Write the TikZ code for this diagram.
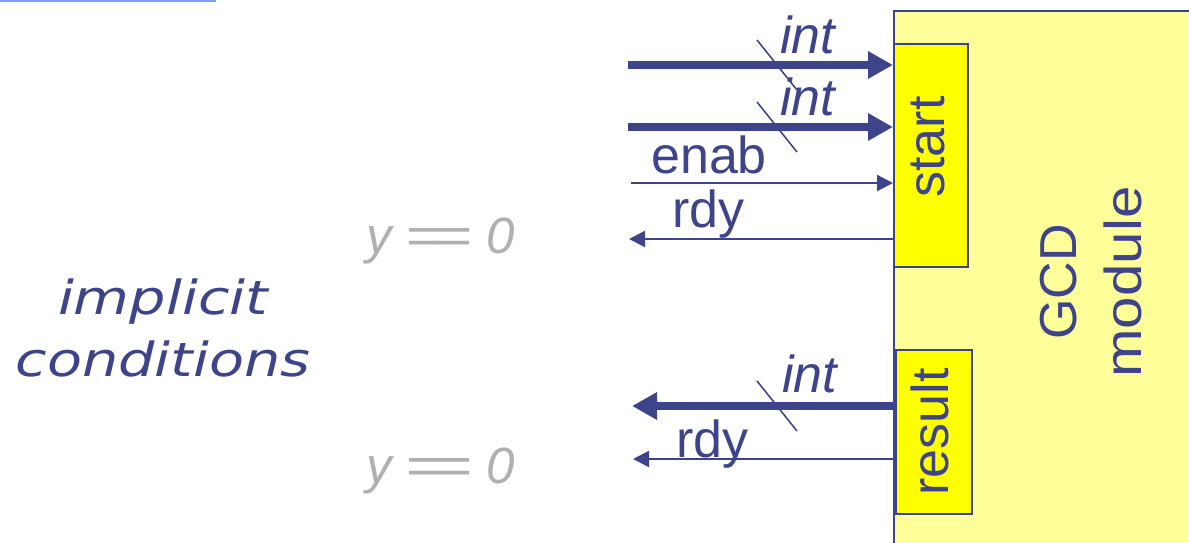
\documentclass[tikz,border=0pt]{standalone}
\usepackage{fontspec}
\usepackage{graphicx}
\setmainfont{Liberation Sans}
\newfontfamily\condfont{DejaVu Sans}
\usetikzlibrary{positioning,arrows.meta,calc}
\definecolor{PortBlue}{RGB}{62,68,138}
\definecolor{ModuleYellow}{RGB}{255,255,153}
\definecolor{PortYellow}{RGB}{255,255,0}
\definecolor{GuardGrey}{RGB}{176,176,176}
\definecolor{RuleBlue}{RGB}{130,150,255}
\newcommand{\guardeq}{y \scalebox{1.22}[1]{=\kern-5.5pt=} 0}
\tikzset{
  bus/.style={-{Triangle[length=25pt,width=26pt]},line width=8pt,draw=PortBlue},
  wire/.style={-{Triangle[length=16pt,width=16pt]},line width=2.2pt,draw=PortBlue},
  slash/.style={line width=1.5pt,draw=PortBlue},
  module/.style={draw=PortBlue,fill=ModuleYellow,line width=1.6pt,anchor=north west,
    minimum width=330pt,minimum height=560pt,inner sep=0pt},
  portbox/.style={draw=PortBlue,fill=PortYellow,line width=1.6pt,anchor=north west,inner sep=0pt},
  sig/.style={font=\fontsize{52}{60}\selectfont,text=PortBlue,inner sep=0pt,anchor=base west},
  typ/.style={sig,font=\fontsize{52}{60}\selectfont\itshape},
  vlabel/.style={font=\fontsize{52}{65}\selectfont,text=PortBlue,inner sep=0pt,rotate=90,align=center},
  guard/.style={font=\fontsize{51}{60}\selectfont\itshape,text=GuardGrey,inner sep=0pt,anchor=base west},
  cond/.style={font=\condfont\fontsize{47}{62}\selectfont\itshape,text=PortBlue,inner sep=0pt,align=center}
}
\begin{document}
\begin{tikzpicture}[x=1pt,y=-1pt]
  \useasboundingbox (0,0) rectangle (1189,542);
  \clip (0,0) rectangle (1189,542);
  \draw[line width=2pt,draw=RuleBlue] (0,1) -- (216,1);
  % module and its ports
  \node[module] (gcd) at (893,10) {};
  \node[portbox,minimum width=74pt,minimum height=223pt] (start) at (893,43) {};
  \node[portbox,minimum width=76pt,minimum height=164pt] (result) at (895,349) {};
  \node[vlabel] (startlbl) at (928,147) {start};
  \node[vlabel] (resultlbl) at (930,432) {result};
  \node[vlabel] (gcdlbl) at (1091,282) {GCD\\\scalebox{1.12}[1]{module}};
  % free ends
  \coordinate (inA) at (628,65);
  \coordinate (inB) at (628,127);
  \coordinate (inE) at (631,183);
  \coordinate (outS) at (629,239);
  \coordinate (outR) at (632,406);
  \coordinate (outRdy) at (633,459);
  \draw[bus] (inA) -- (inA -| gcd.west);
  \draw[bus] (inB) -- (inB -| gcd.west);
  \draw[wire] (inE) -- (inE -| gcd.west);
  \draw[wire] (outS -| gcd.west) -- (outS);
  \draw[bus] (outR -| gcd.west) -- (outR);
  \draw[wire] (outRdy -| gcd.west) -- (outRdy);
  \foreach \y in {65,127,406}
    \draw[slash] (777,\y) ++(-20,-25) -- ++(40,50);
  % labels
  \node[typ] (intA) at (780,53) {int};
  \node[typ] (intB) at (780,115) {int};
  \node[sig] (enab) at (651,173) {enab};
  \node[sig] (rdyA) at (672,227) {rdy};
  \node[typ] (intR) at (782,392) {int};
  \node[sig] (rdyR) at (676,457) {rdy};
  \node[guard] (guardA) at (366,253) {\guardeq};
  \node[guard] (guardR) at (366,483) {\guardeq};
  \node[cond] (implicit) at (163,328) {\scalebox{1.22}[1]{implicit}\\\scalebox{1.22}[1]{conditions}};
\end{tikzpicture}
\end{document}
